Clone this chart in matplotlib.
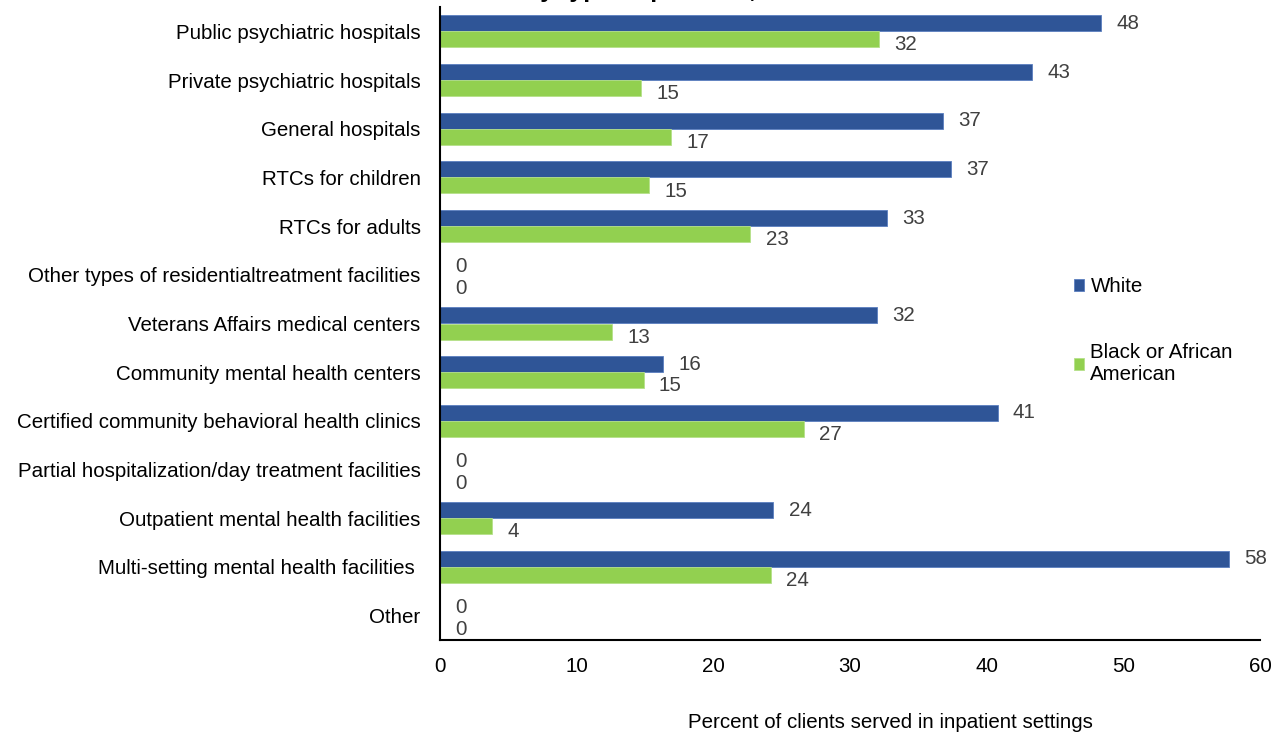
import matplotlib
matplotlib.use("Agg")
import matplotlib.pyplot as plt
import numpy as np

plt.rcParams['font.family'] = ['Liberation Sans', 'DejaVu Sans']

categories = [
    "Public psychiatric hospitals",
    "Private psychiatric hospitals",
    "General hospitals",
    "RTCs for children",
    "RTCs for adults",
    "Other types of residentialtreatment facilities",
    "Veterans Affairs medical centers",
    "Community mental health centers",
    "Certified community behavioral health clinics",
    "Partial hospitalization/day treatment facilities",
    "Outpatient mental health facilities",
    "Multi-setting mental health facilities ",
    "Other",
]
white = [48.4, 43.3, 36.8, 37.4, 32.7, 0, 32.0, 16.3, 40.8, 0, 24.4, 57.7, 0]
black = [32.1, 14.7, 16.9, 15.3, 22.7, 0, 12.6, 14.9, 26.6, 0, 3.8, 24.2, 0]
series_names = ["White", "Black or African\nAmerican"]
xticks = [0, 10, 20, 30, 40, 50, 60]
xlabel = "Percent of clients served in inpatient settings"
title_tail = "by type of provider, 2020"

c_white = "#2F5597"
c_black = "#92D050"
lab_col = "#404040"
FS = 14.8

fig = plt.figure(figsize=(12.82, 7.36), dpi=100)
ax = fig.add_axes([440/1282, 1-640/736, 820/1282, 633/736])

y = np.arange(len(categories))
h = 0.33
b1 = ax.barh(y - h/2, white, height=h, color=c_white, edgecolor="#5b7fc0", linewidth=0.6)
b2 = ax.barh(y + h/2, black, height=h, color=c_black, edgecolor="#b5e08a", linewidth=0.6)

for yi, v in zip(y, white):
    ax.annotate(f"{v:.0f}", (v, yi - h/2), xytext=(11, 0), textcoords="offset points",
                ha="left", va="center", fontsize=FS, color=lab_col)
for yi, v in zip(y, black):
    ax.annotate(f"{v:.0f}", (v, yi + h/2), xytext=(11, -4), textcoords="offset points",
                ha="left", va="center", fontsize=FS, color=lab_col)

ax.set_xlim(0, 60)
ax.set_ylim(len(categories) - 0.5, -0.5)
ax.set_xticks(xticks)
ax.set_xticklabels([str(t) for t in xticks], fontsize=FS)
ax.set_yticks(y)
ax.set_yticklabels(categories, fontsize=FS)
ax.tick_params(axis="both", length=0)
ax.tick_params(axis="y", pad=14)
ax.tick_params(axis="x", pad=12)
for s in ["top", "right"]:
    ax.spines[s].set_visible(False)
for s in ["left", "bottom"]:
    ax.spines[s].set_linewidth(1.5)
    ax.spines[s].set_color("#000000")

fig.text(890/1282, 1-722/736, xlabel, ha="center", va="center", fontsize=FS)
fig.text(525/1282, 1+3/736, title_tail, ha="left", va="baseline", fontsize=18, fontweight="bold")

leg = ax.legend([b1, b2], series_names, loc="upper left",
                bbox_to_anchor=(1074/1282, 1-277/736), bbox_transform=fig.transFigure,
                frameon=False, fontsize=FS, handlelength=0.5, handleheight=0.5,
                handletextpad=0.3, labelspacing=2.3, borderpad=0, borderaxespad=0)

fig.savefig("out.png", dpi=100)
